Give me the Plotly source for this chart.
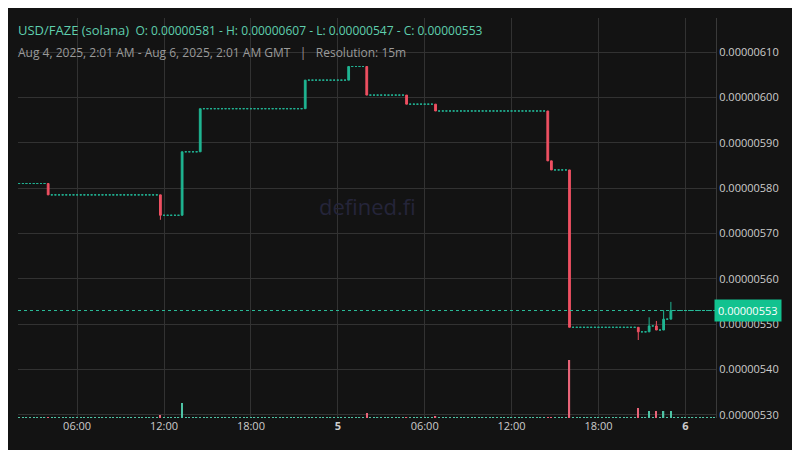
import pandas as pd
import plotly.graph_objects as go

# candles where the price actually moved (15m bars); all other bars are flat at the previous close
event_times = ['2025-08-04 04:00', '2025-08-04 11:45', '2025-08-04 13:15', '2025-08-04 14:30',
               '2025-08-04 21:45', '2025-08-05 00:45', '2025-08-05 02:00', '2025-08-05 04:45',
               '2025-08-05 06:45', '2025-08-05 14:30', '2025-08-05 14:45', '2025-08-05 16:00',
               '2025-08-05 20:45', '2025-08-05 21:30', '2025-08-05 22:00', '2025-08-05 22:30',
               '2025-08-05 23:00']
ev_open = [581.0, 578.5, 574.0, 588.0, 597.5, 603.8, 606.8, 600.5, 598.5, 597.0, 586.0, 584.0,
           549.3, 548.3, 549.6, 548.7, 551.1]
ev_high = [581.0, 578.5, 588.0, 597.5, 603.8, 606.8, 606.8, 600.5, 598.5, 597.0, 586.0, 584.0,
           549.3, 551.5, 550.7, 553.1, 554.9]
ev_low = [578.5, 573.0, 574.0, 588.0, 597.5, 603.8, 600.5, 598.5, 597.0, 586.0, 584.0, 549.3,
          546.5, 548.3, 548.7, 548.7, 551.1]
ev_close = [578.5, 574.0, 588.0, 597.5, 603.8, 606.8, 600.5, 598.5, 597.0, 586.0, 584.0, 549.3,
            548.3, 549.6, 548.7, 551.1, 553.0]
ev_volume = [0.5, 3, 15, 1, 1, 1, 5, 1, 2, 1, 1, 58, 10, 7, 7, 7, 7]
start_price = 581.0
flat_volume = 0.4
last_price = 553.0

tick_vals = ['2025-08-04 06:00', '2025-08-04 12:00', '2025-08-04 18:00', '2025-08-05 00:00',
             '2025-08-05 06:00', '2025-08-05 12:00', '2025-08-05 18:00', '2025-08-06 00:00']
tick_text = ['06:00', '12:00', '18:00', '<b>5</b>', '06:00', '12:00', '18:00', '<b>6</b>']

scale = 1e-8
events = {pd.Timestamp(t): i for i, t in enumerate(event_times)}
times = pd.date_range('2025-08-04 02:00', '2025-08-06 02:00', freq='15min')
mv = dict(x=[], o=[], h=[], l=[], c=[])
fl = dict(x=[], p=[])
vol, vol_col = [], []
prev = start_price
for t in times:
    if t in events:
        i = events[t]
        mv['x'].append(t); mv['o'].append(ev_open[i] * scale); mv['h'].append(ev_high[i] * scale)
        mv['l'].append(ev_low[i] * scale); mv['c'].append(ev_close[i] * scale)
        vol.append(ev_volume[i])
        vol_col.append('#4fc3a5' if ev_close[i] >= ev_open[i] else '#e86478')
        prev = ev_close[i]
    else:
        fl['x'].append(t); fl['p'].append(prev * scale)
        vol.append(flat_volume); vol_col.append('#4fc3a5')

up, down, flat = '#1fb592', '#ef5062', '#22b394'

fig = go.Figure()
fig.add_trace(go.Bar(x=times, y=vol, marker_color=vol_col, marker_line_width=0,
                     width=15 * 60 * 1000 * 0.35, yaxis='y2', hoverinfo='skip'))
fig.add_trace(go.Candlestick(x=fl['x'], open=fl['p'], high=fl['p'], low=fl['p'], close=fl['p'],
                             increasing=dict(line=dict(color=flat, width=1), fillcolor=flat),
                             decreasing=dict(line=dict(color=flat, width=1), fillcolor=flat),
                             whiskerwidth=0))
fig.add_trace(go.Candlestick(x=mv['x'], open=mv['o'], high=mv['h'], low=mv['l'], close=mv['c'],
                             increasing=dict(line=dict(color=up, width=1), fillcolor=up),
                             decreasing=dict(line=dict(color=down, width=1), fillcolor=down),
                             whiskerwidth=0))

fig.add_hline(y=last_price * scale, line=dict(color='#2bbd9a', width=1, dash='dot'))
fig.add_annotation(x=1, xref='paper', xanchor='left', y=last_price * scale, yref='y',
                   text='0.00000553', showarrow=False, bgcolor='#12c28f',
                   font=dict(color='white', size=11, family='Open Sans'), borderpad=3, xshift=-2)
fig.add_annotation(x=0.5, y=0.53, xref='paper', yref='paper', text='defined.fi', showarrow=False,
                   font=dict(size=22, color='#25253a', family='Open Sans'))
fig.add_annotation(x=0, y=1, xref='paper', yref='paper', xanchor='left', yanchor='top',
                   xshift=-2, yshift=-1, showarrow=False, align='left',
                   text='<span style="font-size:13px">USD/FAZE (solana)</span>  '
                        'O: 0.00000581 - H: 0.00000607 - L: 0.00000547 - C: 0.00000553',
                   font=dict(size=12, color='#5fcfae', family='Open Sans'))
fig.add_annotation(x=0, y=1, xref='paper', yref='paper', xanchor='left', yanchor='top',
                   xshift=-2, yshift=-24, showarrow=False,
                   text='Aug 4, 2025, 2:01 AM - Aug 6, 2025, 2:01 AM GMT   |   Resolution: 15m',
                   font=dict(size=12, color='#9a9a9a', family='Open Sans'))

fig.update_layout(
    width=800, height=450, margin=dict(l=10, r=92, t=10, b=40),
    paper_bgcolor='#131313', plot_bgcolor='#131313', showlegend=False,
    font=dict(family='Open Sans', color='#cccccc', size=11),
    xaxis=dict(range=['2025-08-04 01:55', '2025-08-06 02:07'], rangeslider=dict(visible=False),
               tickvals=tick_vals, ticktext=tick_text, gridcolor='#323232', showline=False,
               zeroline=False, ticks=''),
    yaxis=dict(side='right', range=[529.3 * scale, 617.5 * scale], dtick=10 * scale,
               tick0=530 * scale, tickformat='.8f', gridcolor='#323232', zeroline=False,
               showline=True, linecolor='#3a3a3a', ticks=''),
    yaxis2=dict(overlaying='y', range=[0, 400], visible=False, showgrid=False),
)
fig.write_html('out.html')
